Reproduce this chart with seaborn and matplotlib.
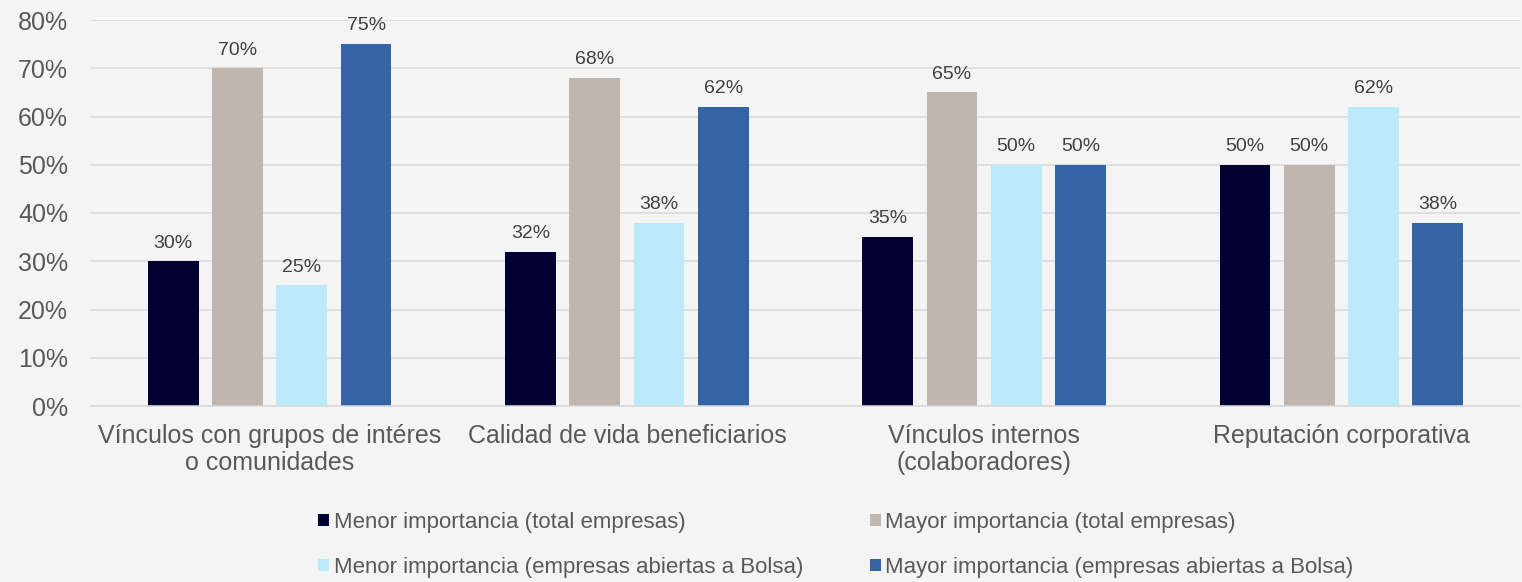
import matplotlib
matplotlib.use("Agg")
import matplotlib.pyplot as plt
from matplotlib.patches import Patch
import seaborn as sns
import pandas as pd

categories = ["Vínculos con grupos de intéres\no comunidades",
              "Calidad de vida beneficiarios",
              "Vínculos internos\n(colaboradores)",
              "Reputación corporativa"]
series = ["Menor importancia (total empresas)",
          "Mayor importancia (total empresas)",
          "Menor importancia (empresas abiertas a Bolsa)",
          "Mayor importancia (empresas abiertas a Bolsa)"]
menor_total = [30, 32, 35, 50]
mayor_total = [70, 68, 65, 50]
menor_bolsa = [25, 38, 50, 62]
mayor_bolsa = [75, 62, 50, 38]
yticks = [0, 10, 20, 30, 40, 50, 60, 70, 80]
colors = ["#000033", "#BFB6B0", "#BBEBFB", "#3464A6"]

values = [menor_total, mayor_total, menor_bolsa, mayor_bolsa]
rows = []
for s, vals in zip(series, values):
    for c, v in zip(categories, vals):
        rows.append({"cat": c, "series": s, "val": v})
df = pd.DataFrame(rows)

sns.set_theme(style="white")
plt.rcParams["font.family"] = ["Liberation Sans", "DejaVu Sans"]

BG = "#F4F4F4"
fig = plt.figure(figsize=(15.22, 5.82), dpi=100, facecolor=BG)
ax = fig.add_axes([91/1522, (582-406)/582, (1520-91)/1522, 386/582])
ax.set_facecolor(BG)

sns.barplot(data=df, x="cat", y="val", hue="series", order=categories,
            hue_order=series, palette=colors, width=0.72, gap=0.21,
            errorbar=None, saturation=1, ax=ax, legend=False, linewidth=0)

for cont, vals in zip(ax.containers, values):
    ax.bar_label(cont, labels=[f"{v}%" for v in vals], padding=7,
                 fontsize=14, color="#404040")

ax.set_ylim(0, 80)
ax.set_xlim(-0.5, 3.5)
ax.set_yticks(yticks)
ax.set_yticklabels([f"{t}%" for t in yticks])
ax.yaxis.grid(True, color="#D9D9D9", linewidth=1.1)
ax.set_axisbelow(True)
for sp in ["top", "right", "left"]:
    ax.spines[sp].set_visible(False)
ax.spines["bottom"].set_color("#D9D9D9")
ax.spines["bottom"].set_linewidth(1.1)
ax.tick_params(axis="y", length=0, pad=16.5, labelsize=18, labelcolor="#595959")
ax.tick_params(axis="x", length=0, pad=13, labelsize=18, labelcolor="#595959")
for lbl in ax.get_xticklabels():
    lbl.set_linespacing(1.15)
ax.set_xlabel("")
ax.set_ylabel("")

handles = [Patch(facecolor=colors[i], edgecolor="none") for i in [0, 2, 1, 3]]
labels = [series[i] for i in [0, 2, 1, 3]]
fig.legend(handles, labels, ncol=2, loc="center left",
           bbox_to_anchor=(318/1522, (582-545)/582), frameon=False,
           fontsize=16, labelcolor="#595959", handlelength=0.5,
           handleheight=0.45, handletextpad=0.2, columnspacing=3.0,
           labelspacing=1.1, borderpad=0, borderaxespad=0)

fig.savefig("out.png", dpi=100, facecolor=BG)
